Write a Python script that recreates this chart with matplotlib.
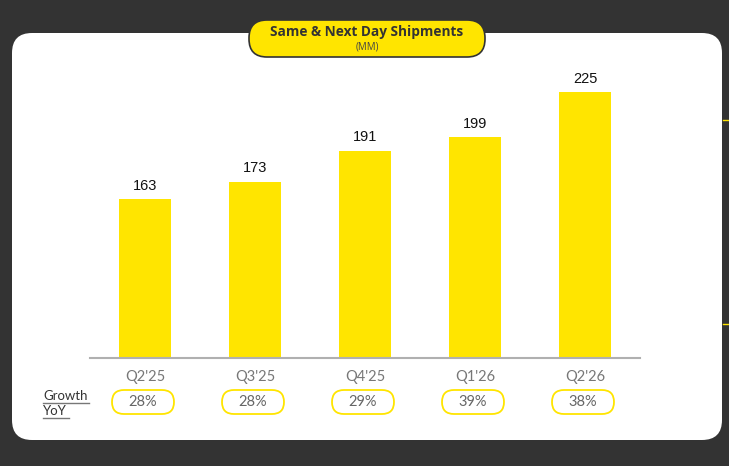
import numpy as np
import matplotlib
matplotlib.use('Agg')
import matplotlib.pyplot as plt
from matplotlib.patches import FancyBboxPatch

# data
quarters = ["Q2'25", "Q3'25", "Q4'25", "Q1'26", "Q2'26"]
shipments = [163, 173, 191, 199, 225]
growth = ["28%", "28%", "29%", "39%", "38%"]

YELLOW = '#FFE500'
DARK = '#333333'

plt.rcParams['font.family'] = ['Lato', 'DejaVu Sans']

W, H = 729, 466
fig = plt.figure(figsize=(W / 100, H / 100), dpi=100, facecolor=DARK)

# background axes in pixel units (y from bottom)
bg = fig.add_axes([0, 0, 1, 1])
bg.set_xlim(0, W)
bg.set_ylim(0, H)
bg.axis('off')

panel = FancyBboxPatch((12, 26), 710, 407, boxstyle='round,pad=0,rounding_size=20',
                       facecolor='white', edgecolor='none')
bg.add_patch(panel)

# little yellow marks on right edge
for yy in (346, 142):
    bg.plot([723, 729], [yy, yy], color=YELLOW, lw=1)

# title pill
title_pill = FancyBboxPatch((249, 409), 236, 37, boxstyle='round,pad=0,rounding_size=18',
                            facecolor=YELLOW, edgecolor=DARK, lw=1.2, zorder=5)
bg.add_patch(title_pill)
bg.text(367, 434, 'Same & Next Day Shipments', ha='center', va='center',
        fontsize=9.8, fontweight='bold', color=DARK, zorder=6, family=['Open Sans'])
bg.text(367, 419, '(MM)', ha='center', va='center', fontsize=7, color='#444444', zorder=6,
        family=['Open Sans'])

# chart axes
ax = fig.add_axes([90 / W, (H - 358) / H, 550 / W, 318 / H])
ax.patch.set_alpha(0)
x = np.arange(len(quarters))
bars = ax.bar(x, shipments, width=0.47, color=YELLOW, zorder=2)
ax.set_xlim(-0.5, len(quarters) - 0.5)
ax.set_ylim(71, 255)
for rect, v in zip(bars, shipments):
    ax.annotate(str(v), (rect.get_x() + rect.get_width() / 2, v), xytext=(0, 4.5),
                textcoords='offset points', ha='center', va='bottom',
                fontsize=10.5, color='#111111', family=['Liberation Sans'])

for s in ['top', 'right', 'left']:
    ax.spines[s].set_visible(False)
ax.spines['bottom'].set_color('#b0b0b0')
ax.spines['bottom'].set_linewidth(1.5)
ax.set_yticks([])
ax.set_xticks(x)
ax.set_xticklabels(quarters, fontsize=10.5, color='#777777')
ax.tick_params(axis='x', length=0, pad=9)

# growth pills
to_bg = ax.transData + bg.transData.inverted()
for i, g in enumerate(growth):
    cx = to_bg.transform((i, 71))[0]
    pill = FancyBboxPatch((cx - 33, 52), 62, 24, boxstyle='round,pad=0,rounding_size=12',
                          facecolor='white', edgecolor=YELLOW, lw=1.3)
    bg.add_patch(pill)
    bg.text(cx - 2, 63.5, g, ha='center', va='center', fontsize=10.5, color='#666666')

# Growth YoY label with underlines
r = fig.canvas.get_renderer()
for word, yy in (('Growth', 70), ('YoY', 55)):
    t = bg.text(43, yy, word, ha='left', va='center', fontsize=9.5, color=DARK)
    bb = t.get_window_extent(renderer=r).transformed(bg.transData.inverted())
    bg.plot([bb.x0, bb.x1 + 2], [bb.y0 - 1, bb.y0 - 1], color='#777777', lw=1)

fig.savefig('out.png', dpi=100, facecolor=DARK)
